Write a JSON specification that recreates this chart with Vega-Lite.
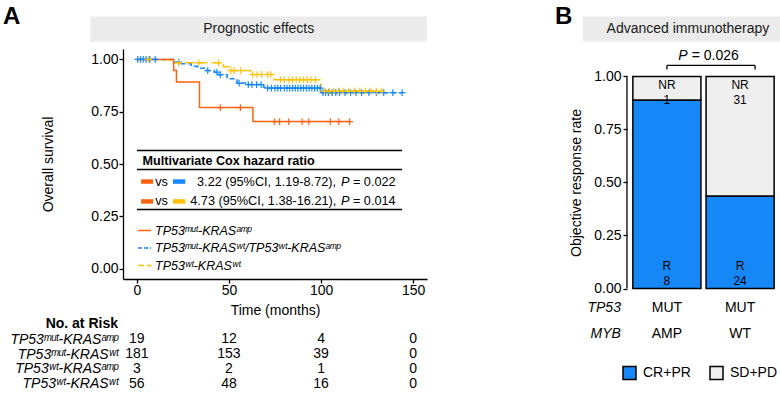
{
  "$schema": "https://vega.github.io/schema/vega-lite/v6.json",
  "background": "white",
  "padding": {"left": 3, "top": 5, "right": 0, "bottom": 0},
  "config": {
    "font": "Liberation Sans, DejaVu Sans",
    "view": {"stroke": null},
    "axis": {"labelColor": "black", "titleColor": "black", "domainColor": "black", "tickColor": "black", "grid": false, "labelFontSize": 14, "titleFontSize": 14, "titleFontWeight": "normal", "tickSize": 4, "domainWidth": 1.3, "tickWidth": 1.3},
    "text": {"color": "black"}
  },
  "datasets": {
    "km": [
      {"group": "TP53\u1d50\u1d58\u1d57-KRAS\u02b7\u1d57/TP53\u02b7\u1d57-KRAS\u1d43\u1d50\u1d56", "t": 0, "s": 1},
      {"group": "TP53\u1d50\u1d58\u1d57-KRAS\u02b7\u1d57/TP53\u02b7\u1d57-KRAS\u1d43\u1d50\u1d56", "t": 20, "s": 0.987},
      {"group": "TP53\u1d50\u1d58\u1d57-KRAS\u02b7\u1d57/TP53\u02b7\u1d57-KRAS\u1d43\u1d50\u1d56", "t": 23.5, "s": 0.979},
      {"group": "TP53\u1d50\u1d58\u1d57-KRAS\u02b7\u1d57/TP53\u02b7\u1d57-KRAS\u1d43\u1d50\u1d56", "t": 29.5, "s": 0.967},
      {"group": "TP53\u1d50\u1d58\u1d57-KRAS\u02b7\u1d57/TP53\u02b7\u1d57-KRAS\u1d43\u1d50\u1d56", "t": 33, "s": 0.958},
      {"group": "TP53\u1d50\u1d58\u1d57-KRAS\u02b7\u1d57/TP53\u02b7\u1d57-KRAS\u1d43\u1d50\u1d56", "t": 38, "s": 0.947},
      {"group": "TP53\u1d50\u1d58\u1d57-KRAS\u02b7\u1d57/TP53\u02b7\u1d57-KRAS\u1d43\u1d50\u1d56", "t": 42, "s": 0.939},
      {"group": "TP53\u1d50\u1d58\u1d57-KRAS\u02b7\u1d57/TP53\u02b7\u1d57-KRAS\u1d43\u1d50\u1d56", "t": 44.5, "s": 0.927},
      {"group": "TP53\u1d50\u1d58\u1d57-KRAS\u02b7\u1d57/TP53\u02b7\u1d57-KRAS\u1d43\u1d50\u1d56", "t": 49, "s": 0.908},
      {"group": "TP53\u1d50\u1d58\u1d57-KRAS\u02b7\u1d57/TP53\u02b7\u1d57-KRAS\u1d43\u1d50\u1d56", "t": 54.4, "s": 0.887},
      {"group": "TP53\u1d50\u1d58\u1d57-KRAS\u02b7\u1d57/TP53\u02b7\u1d57-KRAS\u1d43\u1d50\u1d56", "t": 59.8, "s": 0.88},
      {"group": "TP53\u1d50\u1d58\u1d57-KRAS\u02b7\u1d57/TP53\u02b7\u1d57-KRAS\u1d43\u1d50\u1d56", "t": 68.8, "s": 0.867},
      {"group": "TP53\u1d50\u1d58\u1d57-KRAS\u02b7\u1d57/TP53\u02b7\u1d57-KRAS\u1d43\u1d50\u1d56", "t": 70.7, "s": 0.863},
      {"group": "TP53\u1d50\u1d58\u1d57-KRAS\u02b7\u1d57/TP53\u02b7\u1d57-KRAS\u1d43\u1d50\u1d56", "t": 100.5, "s": 0.841},
      {"group": "TP53\u1d50\u1d58\u1d57-KRAS\u02b7\u1d57/TP53\u02b7\u1d57-KRAS\u1d43\u1d50\u1d56", "t": 144, "s": 0.841},
      {"group": "TP53\u02b7\u1d57-KRAS\u02b7\u1d57", "t": 0, "s": 1},
      {"group": "TP53\u02b7\u1d57-KRAS\u02b7\u1d57", "t": 18, "s": 0.984},
      {"group": "TP53\u02b7\u1d57-KRAS\u02b7\u1d57", "t": 47, "s": 0.965},
      {"group": "TP53\u02b7\u1d57-KRAS\u02b7\u1d57", "t": 50, "s": 0.947},
      {"group": "TP53\u02b7\u1d57-KRAS\u02b7\u1d57", "t": 61.5, "s": 0.928},
      {"group": "TP53\u02b7\u1d57-KRAS\u02b7\u1d57", "t": 74.5, "s": 0.903},
      {"group": "TP53\u02b7\u1d57-KRAS\u02b7\u1d57", "t": 100, "s": 0.849},
      {"group": "TP53\u02b7\u1d57-KRAS\u02b7\u1d57", "t": 133, "s": 0.849},
      {"group": "TP53\u1d50\u1d58\u1d57-KRAS\u1d43\u1d50\u1d56", "t": 0, "s": 1},
      {"group": "TP53\u1d50\u1d58\u1d57-KRAS\u1d43\u1d50\u1d56", "t": 20, "s": 0.947},
      {"group": "TP53\u1d50\u1d58\u1d57-KRAS\u1d43\u1d50\u1d56", "t": 21.5, "s": 0.892},
      {"group": "TP53\u1d50\u1d58\u1d57-KRAS\u1d43\u1d50\u1d56", "t": 34, "s": 0.77},
      {"group": "TP53\u1d50\u1d58\u1d57-KRAS\u1d43\u1d50\u1d56", "t": 63, "s": 0.703},
      {"group": "TP53\u1d50\u1d58\u1d57-KRAS\u1d43\u1d50\u1d56", "t": 116, "s": 0.703}
    ],
    "censor": [
      {"group": "TP53\u1d50\u1d58\u1d57-KRAS\u02b7\u1d57/TP53\u02b7\u1d57-KRAS\u1d43\u1d50\u1d56", "t": 0.5, "s": 1},
      {"group": "TP53\u1d50\u1d58\u1d57-KRAS\u02b7\u1d57/TP53\u02b7\u1d57-KRAS\u1d43\u1d50\u1d56", "t": 2, "s": 1},
      {"group": "TP53\u1d50\u1d58\u1d57-KRAS\u02b7\u1d57/TP53\u02b7\u1d57-KRAS\u1d43\u1d50\u1d56", "t": 3.5, "s": 1},
      {"group": "TP53\u1d50\u1d58\u1d57-KRAS\u02b7\u1d57/TP53\u02b7\u1d57-KRAS\u1d43\u1d50\u1d56", "t": 5, "s": 1},
      {"group": "TP53\u1d50\u1d58\u1d57-KRAS\u02b7\u1d57/TP53\u02b7\u1d57-KRAS\u1d43\u1d50\u1d56", "t": 7, "s": 1},
      {"group": "TP53\u1d50\u1d58\u1d57-KRAS\u02b7\u1d57/TP53\u02b7\u1d57-KRAS\u1d43\u1d50\u1d56", "t": 10, "s": 1},
      {"group": "TP53\u1d50\u1d58\u1d57-KRAS\u02b7\u1d57/TP53\u02b7\u1d57-KRAS\u1d43\u1d50\u1d56", "t": 22.7, "s": 0.987},
      {"group": "TP53\u1d50\u1d58\u1d57-KRAS\u02b7\u1d57/TP53\u02b7\u1d57-KRAS\u1d43\u1d50\u1d56", "t": 38.5, "s": 0.947},
      {"group": "TP53\u1d50\u1d58\u1d57-KRAS\u02b7\u1d57/TP53\u02b7\u1d57-KRAS\u1d43\u1d50\u1d56", "t": 43.5, "s": 0.939},
      {"group": "TP53\u1d50\u1d58\u1d57-KRAS\u02b7\u1d57/TP53\u02b7\u1d57-KRAS\u1d43\u1d50\u1d56", "t": 45.3, "s": 0.927},
      {"group": "TP53\u1d50\u1d58\u1d57-KRAS\u02b7\u1d57/TP53\u02b7\u1d57-KRAS\u1d43\u1d50\u1d56", "t": 55.5, "s": 0.887},
      {"group": "TP53\u1d50\u1d58\u1d57-KRAS\u02b7\u1d57/TP53\u02b7\u1d57-KRAS\u1d43\u1d50\u1d56", "t": 60.5, "s": 0.88},
      {"group": "TP53\u1d50\u1d58\u1d57-KRAS\u02b7\u1d57/TP53\u02b7\u1d57-KRAS\u1d43\u1d50\u1d56", "t": 62.5, "s": 0.88},
      {"group": "TP53\u1d50\u1d58\u1d57-KRAS\u02b7\u1d57/TP53\u02b7\u1d57-KRAS\u1d43\u1d50\u1d56", "t": 65, "s": 0.88},
      {"group": "TP53\u1d50\u1d58\u1d57-KRAS\u02b7\u1d57/TP53\u02b7\u1d57-KRAS\u1d43\u1d50\u1d56", "t": 67.5, "s": 0.88},
      {"group": "TP53\u1d50\u1d58\u1d57-KRAS\u02b7\u1d57/TP53\u02b7\u1d57-KRAS\u1d43\u1d50\u1d56", "t": 71, "s": 0.863},
      {"group": "TP53\u1d50\u1d58\u1d57-KRAS\u02b7\u1d57/TP53\u02b7\u1d57-KRAS\u1d43\u1d50\u1d56", "t": 73, "s": 0.863},
      {"group": "TP53\u1d50\u1d58\u1d57-KRAS\u02b7\u1d57/TP53\u02b7\u1d57-KRAS\u1d43\u1d50\u1d56", "t": 75, "s": 0.863},
      {"group": "TP53\u1d50\u1d58\u1d57-KRAS\u02b7\u1d57/TP53\u02b7\u1d57-KRAS\u1d43\u1d50\u1d56", "t": 76.5, "s": 0.863},
      {"group": "TP53\u1d50\u1d58\u1d57-KRAS\u02b7\u1d57/TP53\u02b7\u1d57-KRAS\u1d43\u1d50\u1d56", "t": 78, "s": 0.863},
      {"group": "TP53\u1d50\u1d58\u1d57-KRAS\u02b7\u1d57/TP53\u02b7\u1d57-KRAS\u1d43\u1d50\u1d56", "t": 80, "s": 0.863},
      {"group": "TP53\u1d50\u1d58\u1d57-KRAS\u02b7\u1d57/TP53\u02b7\u1d57-KRAS\u1d43\u1d50\u1d56", "t": 81.5, "s": 0.863},
      {"group": "TP53\u1d50\u1d58\u1d57-KRAS\u02b7\u1d57/TP53\u02b7\u1d57-KRAS\u1d43\u1d50\u1d56", "t": 83, "s": 0.863},
      {"group": "TP53\u1d50\u1d58\u1d57-KRAS\u02b7\u1d57/TP53\u02b7\u1d57-KRAS\u1d43\u1d50\u1d56", "t": 84.5, "s": 0.863},
      {"group": "TP53\u1d50\u1d58\u1d57-KRAS\u02b7\u1d57/TP53\u02b7\u1d57-KRAS\u1d43\u1d50\u1d56", "t": 86, "s": 0.863},
      {"group": "TP53\u1d50\u1d58\u1d57-KRAS\u02b7\u1d57/TP53\u02b7\u1d57-KRAS\u1d43\u1d50\u1d56", "t": 87.5, "s": 0.863},
      {"group": "TP53\u1d50\u1d58\u1d57-KRAS\u02b7\u1d57/TP53\u02b7\u1d57-KRAS\u1d43\u1d50\u1d56", "t": 89, "s": 0.863},
      {"group": "TP53\u1d50\u1d58\u1d57-KRAS\u02b7\u1d57/TP53\u02b7\u1d57-KRAS\u1d43\u1d50\u1d56", "t": 90.5, "s": 0.863},
      {"group": "TP53\u1d50\u1d58\u1d57-KRAS\u02b7\u1d57/TP53\u02b7\u1d57-KRAS\u1d43\u1d50\u1d56", "t": 92, "s": 0.863},
      {"group": "TP53\u1d50\u1d58\u1d57-KRAS\u02b7\u1d57/TP53\u02b7\u1d57-KRAS\u1d43\u1d50\u1d56", "t": 93.5, "s": 0.863},
      {"group": "TP53\u1d50\u1d58\u1d57-KRAS\u02b7\u1d57/TP53\u02b7\u1d57-KRAS\u1d43\u1d50\u1d56", "t": 95, "s": 0.863},
      {"group": "TP53\u1d50\u1d58\u1d57-KRAS\u02b7\u1d57/TP53\u02b7\u1d57-KRAS\u1d43\u1d50\u1d56", "t": 96.5, "s": 0.863},
      {"group": "TP53\u1d50\u1d58\u1d57-KRAS\u02b7\u1d57/TP53\u02b7\u1d57-KRAS\u1d43\u1d50\u1d56", "t": 98, "s": 0.863},
      {"group": "TP53\u1d50\u1d58\u1d57-KRAS\u02b7\u1d57/TP53\u02b7\u1d57-KRAS\u1d43\u1d50\u1d56", "t": 99.5, "s": 0.863},
      {"group": "TP53\u1d50\u1d58\u1d57-KRAS\u02b7\u1d57/TP53\u02b7\u1d57-KRAS\u1d43\u1d50\u1d56", "t": 101, "s": 0.841},
      {"group": "TP53\u1d50\u1d58\u1d57-KRAS\u02b7\u1d57/TP53\u02b7\u1d57-KRAS\u1d43\u1d50\u1d56", "t": 102.5, "s": 0.841},
      {"group": "TP53\u1d50\u1d58\u1d57-KRAS\u02b7\u1d57/TP53\u02b7\u1d57-KRAS\u1d43\u1d50\u1d56", "t": 104, "s": 0.841},
      {"group": "TP53\u1d50\u1d58\u1d57-KRAS\u02b7\u1d57/TP53\u02b7\u1d57-KRAS\u1d43\u1d50\u1d56", "t": 106, "s": 0.841},
      {"group": "TP53\u1d50\u1d58\u1d57-KRAS\u02b7\u1d57/TP53\u02b7\u1d57-KRAS\u1d43\u1d50\u1d56", "t": 108, "s": 0.841},
      {"group": "TP53\u1d50\u1d58\u1d57-KRAS\u02b7\u1d57/TP53\u02b7\u1d57-KRAS\u1d43\u1d50\u1d56", "t": 110, "s": 0.841},
      {"group": "TP53\u1d50\u1d58\u1d57-KRAS\u02b7\u1d57/TP53\u02b7\u1d57-KRAS\u1d43\u1d50\u1d56", "t": 113, "s": 0.841},
      {"group": "TP53\u1d50\u1d58\u1d57-KRAS\u02b7\u1d57/TP53\u02b7\u1d57-KRAS\u1d43\u1d50\u1d56", "t": 116, "s": 0.841},
      {"group": "TP53\u1d50\u1d58\u1d57-KRAS\u02b7\u1d57/TP53\u02b7\u1d57-KRAS\u1d43\u1d50\u1d56", "t": 119, "s": 0.841},
      {"group": "TP53\u1d50\u1d58\u1d57-KRAS\u02b7\u1d57/TP53\u02b7\u1d57-KRAS\u1d43\u1d50\u1d56", "t": 122, "s": 0.841},
      {"group": "TP53\u1d50\u1d58\u1d57-KRAS\u02b7\u1d57/TP53\u02b7\u1d57-KRAS\u1d43\u1d50\u1d56", "t": 126, "s": 0.841},
      {"group": "TP53\u1d50\u1d58\u1d57-KRAS\u02b7\u1d57/TP53\u02b7\u1d57-KRAS\u1d43\u1d50\u1d56", "t": 130, "s": 0.841},
      {"group": "TP53\u1d50\u1d58\u1d57-KRAS\u02b7\u1d57/TP53\u02b7\u1d57-KRAS\u1d43\u1d50\u1d56", "t": 134, "s": 0.841},
      {"group": "TP53\u1d50\u1d58\u1d57-KRAS\u02b7\u1d57/TP53\u02b7\u1d57-KRAS\u1d43\u1d50\u1d56", "t": 139, "s": 0.841},
      {"group": "TP53\u1d50\u1d58\u1d57-KRAS\u02b7\u1d57/TP53\u02b7\u1d57-KRAS\u1d43\u1d50\u1d56", "t": 144, "s": 0.841},
      {"group": "TP53\u02b7\u1d57-KRAS\u02b7\u1d57", "t": 6.3, "s": 1},
      {"group": "TP53\u02b7\u1d57-KRAS\u02b7\u1d57", "t": 22.7, "s": 0.984},
      {"group": "TP53\u02b7\u1d57-KRAS\u02b7\u1d57", "t": 33.6, "s": 0.984},
      {"group": "TP53\u02b7\u1d57-KRAS\u02b7\u1d57", "t": 44.4, "s": 0.984},
      {"group": "TP53\u02b7\u1d57-KRAS\u02b7\u1d57", "t": 51, "s": 0.947},
      {"group": "TP53\u02b7\u1d57-KRAS\u02b7\u1d57", "t": 52.8, "s": 0.947},
      {"group": "TP53\u02b7\u1d57-KRAS\u02b7\u1d57", "t": 56.4, "s": 0.947},
      {"group": "TP53\u02b7\u1d57-KRAS\u02b7\u1d57", "t": 62.9, "s": 0.928},
      {"group": "TP53\u02b7\u1d57-KRAS\u02b7\u1d57", "t": 65.2, "s": 0.928},
      {"group": "TP53\u02b7\u1d57-KRAS\u02b7\u1d57", "t": 67.8, "s": 0.928},
      {"group": "TP53\u02b7\u1d57-KRAS\u02b7\u1d57", "t": 71, "s": 0.928},
      {"group": "TP53\u02b7\u1d57-KRAS\u02b7\u1d57", "t": 72.8, "s": 0.928},
      {"group": "TP53\u02b7\u1d57-KRAS\u02b7\u1d57", "t": 78, "s": 0.903},
      {"group": "TP53\u02b7\u1d57-KRAS\u02b7\u1d57", "t": 80, "s": 0.903},
      {"group": "TP53\u02b7\u1d57-KRAS\u02b7\u1d57", "t": 82.5, "s": 0.903},
      {"group": "TP53\u02b7\u1d57-KRAS\u02b7\u1d57", "t": 84.5, "s": 0.903},
      {"group": "TP53\u02b7\u1d57-KRAS\u02b7\u1d57", "t": 86.5, "s": 0.903},
      {"group": "TP53\u02b7\u1d57-KRAS\u02b7\u1d57", "t": 88.5, "s": 0.903},
      {"group": "TP53\u02b7\u1d57-KRAS\u02b7\u1d57", "t": 90.5, "s": 0.903},
      {"group": "TP53\u02b7\u1d57-KRAS\u02b7\u1d57", "t": 92.5, "s": 0.903},
      {"group": "TP53\u02b7\u1d57-KRAS\u02b7\u1d57", "t": 94.5, "s": 0.903},
      {"group": "TP53\u02b7\u1d57-KRAS\u02b7\u1d57", "t": 97, "s": 0.903},
      {"group": "TP53\u02b7\u1d57-KRAS\u02b7\u1d57", "t": 102, "s": 0.849},
      {"group": "TP53\u02b7\u1d57-KRAS\u02b7\u1d57", "t": 104.5, "s": 0.849},
      {"group": "TP53\u02b7\u1d57-KRAS\u02b7\u1d57", "t": 107, "s": 0.849},
      {"group": "TP53\u02b7\u1d57-KRAS\u02b7\u1d57", "t": 109.5, "s": 0.849},
      {"group": "TP53\u02b7\u1d57-KRAS\u02b7\u1d57", "t": 112, "s": 0.849},
      {"group": "TP53\u02b7\u1d57-KRAS\u02b7\u1d57", "t": 115, "s": 0.849},
      {"group": "TP53\u02b7\u1d57-KRAS\u02b7\u1d57", "t": 118, "s": 0.849},
      {"group": "TP53\u02b7\u1d57-KRAS\u02b7\u1d57", "t": 121, "s": 0.849},
      {"group": "TP53\u02b7\u1d57-KRAS\u02b7\u1d57", "t": 124, "s": 0.849},
      {"group": "TP53\u02b7\u1d57-KRAS\u02b7\u1d57", "t": 127, "s": 0.849},
      {"group": "TP53\u02b7\u1d57-KRAS\u02b7\u1d57", "t": 130, "s": 0.849},
      {"group": "TP53\u02b7\u1d57-KRAS\u02b7\u1d57", "t": 133, "s": 0.849},
      {"group": "TP53\u1d50\u1d58\u1d57-KRAS\u1d43\u1d50\u1d56", "t": 45.3, "s": 0.77},
      {"group": "TP53\u1d50\u1d58\u1d57-KRAS\u1d43\u1d50\u1d56", "t": 56.2, "s": 0.77},
      {"group": "TP53\u1d50\u1d58\u1d57-KRAS\u1d43\u1d50\u1d56", "t": 74.6, "s": 0.703},
      {"group": "TP53\u1d50\u1d58\u1d57-KRAS\u1d43\u1d50\u1d56", "t": 77.5, "s": 0.703},
      {"group": "TP53\u1d50\u1d58\u1d57-KRAS\u1d43\u1d50\u1d56", "t": 82.4, "s": 0.703},
      {"group": "TP53\u1d50\u1d58\u1d57-KRAS\u1d43\u1d50\u1d56", "t": 89.7, "s": 0.703},
      {"group": "TP53\u1d50\u1d58\u1d57-KRAS\u1d43\u1d50\u1d56", "t": 93.3, "s": 0.703},
      {"group": "TP53\u1d50\u1d58\u1d57-KRAS\u1d43\u1d50\u1d56", "t": 105, "s": 0.703},
      {"group": "TP53\u1d50\u1d58\u1d57-KRAS\u1d43\u1d50\u1d56", "t": 109.6, "s": 0.703},
      {"group": "TP53\u1d50\u1d58\u1d57-KRAS\u1d43\u1d50\u1d56", "t": 115.5, "s": 0.703}
    ],
    "risk": [
      {"group": "TP53\u1d50\u1d58\u1d57-KRAS\u1d43\u1d50\u1d56", "t": 0, "n": 19},
      {"group": "TP53\u1d50\u1d58\u1d57-KRAS\u1d43\u1d50\u1d56", "t": 50, "n": 12},
      {"group": "TP53\u1d50\u1d58\u1d57-KRAS\u1d43\u1d50\u1d56", "t": 100, "n": 4},
      {"group": "TP53\u1d50\u1d58\u1d57-KRAS\u1d43\u1d50\u1d56", "t": 150, "n": 0},
      {"group": "TP53\u1d50\u1d58\u1d57-KRAS\u02b7\u1d57", "t": 0, "n": 181},
      {"group": "TP53\u1d50\u1d58\u1d57-KRAS\u02b7\u1d57", "t": 50, "n": 153},
      {"group": "TP53\u1d50\u1d58\u1d57-KRAS\u02b7\u1d57", "t": 100, "n": 39},
      {"group": "TP53\u1d50\u1d58\u1d57-KRAS\u02b7\u1d57", "t": 150, "n": 0},
      {"group": "TP53\u02b7\u1d57-KRAS\u1d43\u1d50\u1d56", "t": 0, "n": 3},
      {"group": "TP53\u02b7\u1d57-KRAS\u1d43\u1d50\u1d56", "t": 50, "n": 2},
      {"group": "TP53\u02b7\u1d57-KRAS\u1d43\u1d50\u1d56", "t": 100, "n": 1},
      {"group": "TP53\u02b7\u1d57-KRAS\u1d43\u1d50\u1d56", "t": 150, "n": 0},
      {"group": "TP53\u02b7\u1d57-KRAS\u02b7\u1d57", "t": 0, "n": 56},
      {"group": "TP53\u02b7\u1d57-KRAS\u02b7\u1d57", "t": 50, "n": 48},
      {"group": "TP53\u02b7\u1d57-KRAS\u02b7\u1d57", "t": 100, "n": 16},
      {"group": "TP53\u02b7\u1d57-KRAS\u02b7\u1d57", "t": 150, "n": 0}
    ],
    "orr": [
      {"group": "MUT-AMP", "tp53": "MUT", "myb": "AMP", "response": "CR+PR", "abbr": "R", "n": 8},
      {"group": "MUT-AMP", "tp53": "MUT", "myb": "AMP", "response": "SD+PD", "abbr": "NR", "n": 1},
      {"group": "MUT-WT", "tp53": "MUT", "myb": "WT", "response": "CR+PR", "abbr": "R", "n": 24},
      {"group": "MUT-WT", "tp53": "MUT", "myb": "WT", "response": "SD+PD", "abbr": "NR", "n": 31}
    ]
  },
  "columns": 2,
  "bounds": "flush",
  "spacing": {"row": 43, "column": 200},
  "resolve": {"scale": {"color": "independent"}},
  "concat": [
    {
      "width": 304, "height": 230,
      "layer": [
        {"data": {"name": "km"},
         "mark": {"type": "line", "interpolate": "step-after", "strokeWidth": 1.5},
         "encoding": {
           "x": {"field": "t", "type": "quantitative", "scale": {"domain": [-7.5, 157.5], "nice": false, "zero": false},
                 "axis": {"values": [0, 50, 100, 150], "title": "Time (months)", "labelPadding": 0, "titlePadding": 6}},
           "y": {"field": "s", "type": "quantitative", "scale": {"domain": [-0.05, 1.05], "nice": false, "zero": false},
                 "axis": {"values": [0, 0.25, 0.5, 0.75, 1], "format": ".2f", "title": "Overall survival", "labelPadding": 1, "titlePadding": 35}},
           "color": {"field": "group", "type": "nominal",
             "scale": {"domain": ["TP53\u1d50\u1d58\u1d57-KRAS\u1d43\u1d50\u1d56", "TP53\u1d50\u1d58\u1d57-KRAS\u02b7\u1d57/TP53\u02b7\u1d57-KRAS\u1d43\u1d50\u1d56", "TP53\u02b7\u1d57-KRAS\u02b7\u1d57"], "range": ["#FF620F", "#1587FF", "#FFC107"]},
             "legend": {"orient": "none", "legendX": 14, "legendY": 174, "title": null, "symbolType": "stroke", "symbolSize": 169, "symbolStrokeWidth": 1.5, "labelFontSize": 12.5, "labelFontStyle": "italic", "labelOffset": 3, "rowPadding": 3.5, "labelLimit": 300, "padding": 0, "labelColor": "black",
               "encode": {"symbols": {"update": {"strokeDash": {"signal": "datum.index === 1 ? [4, 2] : datum.index === 2 ? [6, 3] : [1, 0]"}}}}}},
           "strokeDash": {"field": "group", "type": "nominal",
             "scale": {"domain": ["TP53\u1d50\u1d58\u1d57-KRAS\u1d43\u1d50\u1d56", "TP53\u1d50\u1d58\u1d57-KRAS\u02b7\u1d57/TP53\u02b7\u1d57-KRAS\u1d43\u1d50\u1d56", "TP53\u02b7\u1d57-KRAS\u02b7\u1d57"], "range": [[1, 0], [5, 3], [9, 4]]},
             "legend": null}
         }},
        {"data": {"name": "censor"},
         "mark": {"type": "point", "shape": "M-1,0L1,0M0,-1L0,1", "filled": false, "size": 45, "strokeWidth": 1.2, "opacity": 1},
         "encoding": {
           "x": {"field": "t", "type": "quantitative"},
           "y": {"field": "s", "type": "quantitative"},
           "color": {"field": "group", "type": "nominal"}}},
        {"data": {"values": [{}]}, "mark": {"type": "rect", "color": "#EBEBEB"},
         "encoding": {"x": {"datum": -25.2}, "x2": {"datum": 157.5}, "y": {"datum": 1.0859}, "y2": {"datum": 1.2054}}},
        {"data": {"values": [{"txt": "Prognostic effects"}]}, "mark": {"type": "text", "fontSize": 14, "color": "#1A1A1A"},
         "encoding": {"x": {"datum": 66.15}, "y": {"datum": 1.1457}, "text": {"field": "txt"}}},
        {"data": {"values": [{"txt": "A"}]}, "mark": {"type": "text", "fontSize": 24, "fontWeight": "bold", "align": "left", "baseline": "top"},
         "encoding": {"x": {"datum": -72.6}, "y": {"datum": 1.2585}, "text": {"field": "txt"}}},
        {"data": {"values": [{}]}, "mark": {"type": "rule", "color": "black", "strokeWidth": 1.5},
         "encoding": {"x": {"datum": 0.1}, "x2": {"datum": 144}, "y": {"datum": 0.565}}},
        {"data": {"values": [{}]}, "mark": {"type": "rule", "color": "black", "strokeWidth": 1.5},
         "encoding": {"x": {"datum": 0.1}, "x2": {"datum": 144}, "y": {"datum": 0.474}}},
        {"data": {"values": [{}]}, "mark": {"type": "rule", "color": "black", "strokeWidth": 1.5},
         "encoding": {"x": {"datum": 0.1}, "x2": {"datum": 144}, "y": {"datum": 0.282}}},
        {"data": {"values": [{"txt": "Multivariate Cox hazard ratio"}]}, "mark": {"type": "text", "fontSize": 12.6, "fontWeight": "bold", "align": "left"},
         "encoding": {"x": {"datum": 3.1}, "y": {"datum": 0.513}, "text": {"field": "txt"}}},
        {"data": {"values": [{}]}, "mark": {"type": "rule", "color": "#FF620F", "strokeWidth": 4.5},
         "encoding": {"x": {"datum": 2.3}, "x2": {"datum": 8.8}, "y": {"datum": 0.416}}},
        {"data": {"values": [{}]}, "mark": {"type": "rule", "color": "#1587FF", "strokeWidth": 4.5},
         "encoding": {"x": {"datum": 19.6}, "x2": {"datum": 26.3}, "y": {"datum": 0.416}}},
        {"data": {"values": [{}]}, "mark": {"type": "rule", "color": "#FF620F", "strokeWidth": 4.5},
         "encoding": {"x": {"datum": 2.3}, "x2": {"datum": 8.8}, "y": {"datum": 0.321}}},
        {"data": {"values": [{}]}, "mark": {"type": "rule", "color": "#FFC107", "strokeWidth": 4.5},
         "encoding": {"x": {"datum": 19.6}, "x2": {"datum": 26.3}, "y": {"datum": 0.321}}},
        {"data": {"values": [{"txt": "vs"}]}, "mark": {"type": "text", "fontSize": 12.7, "align": "left"},
         "encoding": {"x": {"datum": 10}, "y": {"datum": 0.416}, "text": {"field": "txt"}}},
        {"data": {"values": [{"txt": "vs"}]}, "mark": {"type": "text", "fontSize": 12.7, "align": "left"},
         "encoding": {"x": {"datum": 10}, "y": {"datum": 0.321}, "text": {"field": "txt"}}},
        {"data": {"values": [{"txt": "3.22 (95%CI, 1.19-8.72),"}]}, "mark": {"type": "text", "fontSize": 12.7, "align": "left"},
         "encoding": {"x": {"datum": 32.7}, "y": {"datum": 0.416}, "text": {"field": "txt"}}},
        {"data": {"values": [{"txt": "4.73 (95%CI, 1.38-16.21),"}]}, "mark": {"type": "text", "fontSize": 12.7, "align": "left"},
         "encoding": {"x": {"datum": 29.0}, "y": {"datum": 0.321}, "text": {"field": "txt"}}},
        {"data": {"values": [{"txt": "P"}]}, "mark": {"type": "text", "fontSize": 12.7, "fontStyle": "italic", "align": "left"},
         "encoding": {"x": {"datum": 110.8}, "y": {"datum": 0.416}, "text": {"field": "txt"}}},
        {"data": {"values": [{"txt": "P"}]}, "mark": {"type": "text", "fontSize": 12.7, "fontStyle": "italic", "align": "left"},
         "encoding": {"x": {"datum": 110.8}, "y": {"datum": 0.321}, "text": {"field": "txt"}}},
        {"data": {"values": [{"txt": "= 0.022"}]}, "mark": {"type": "text", "fontSize": 12.7, "align": "left"},
         "encoding": {"x": {"datum": 117.3}, "y": {"datum": 0.416}, "text": {"field": "txt"}}},
        {"data": {"values": [{"txt": "= 0.014"}]}, "mark": {"type": "text", "fontSize": 12.7, "align": "left"},
         "encoding": {"x": {"datum": 117.3}, "y": {"datum": 0.321}, "text": {"field": "txt"}}}
      ]
    },
    {
      "width": 153, "height": 239.5,
      "layer": [
        {"data": {"name": "orr"},
         "mark": {"type": "bar", "stroke": "black", "strokeWidth": 1.5},
         "encoding": {
           "x": {"field": "group", "type": "nominal", "scale": {"domain": ["MUT-AMP", "MUT-WT"], "paddingInner": 0.07, "paddingOuter": 0.08}, "axis": null},
           "y": {"field": "n", "type": "quantitative", "stack": "normalize", "scale": {"domain": [0, 1.1297], "nice": false},
                 "axis": {"values": [0, 0.25, 0.5, 0.75, 1], "labelExpr": "format(datum.value, '.2f')", "title": "Objective response rate", "domain": false, "labelPadding": 2, "titlePadding": 10, "titleY": 133.5}},
           "color": {"field": "response", "type": "nominal", "scale": {"domain": ["CR+PR", "SD+PD"], "range": ["#1587F7", "#EFEFEF"]},
             "legend": {"orient": "none", "legendX": -5, "legendY": 316.5, "direction": "horizontal", "title": null, "symbolType": "square", "symbolSize": 169, "symbolStrokeColor": "black", "symbolStrokeWidth": 1.5, "symbolOpacity": 1, "labelFontSize": 14, "labelOffset": 6, "columnPadding": 16, "padding": 0, "labelColor": "black"}},
           "order": {"field": "response", "type": "nominal", "sort": "ascending"}}},
        {"data": {"values": [{}]}, "mark": {"type": "rule", "color": "black", "strokeWidth": 1.3},
         "encoding": {"x": {"datum": "MUT-AMP", "bandPosition": -0.0866}, "y": {"datum": 0}, "y2": {"datum": 1}}},
        {"data": {"values": [{}]}, "mark": {"type": "rect", "color": "#EBEBEB"},
         "encoding": {"x": {"datum": "MUT-AMP", "bandPosition": -0.733}, "x2": {"datum": "MUT-WT", "bandPosition": 1.085}, "y": {"datum": 1.165}, "y2": {"datum": 1.283}}},
        {"data": {"values": [{"txt": "Advanced immunotherapy"}]}, "mark": {"type": "text", "fontSize": 14, "color": "#1A1A1A"},
         "encoding": {"x": {"datum": "MUT-AMP", "bandPosition": 0.809}, "y": {"datum": 1.224}, "text": {"field": "txt"}}},
        {"data": {"values": [{"txt": "B"}]}, "mark": {"type": "text", "fontSize": 24, "fontWeight": "bold", "align": "left", "baseline": "top"},
         "encoding": {"x": {"datum": "MUT-AMP", "bandPosition": -1.144}, "y": {"datum": 1.335}, "text": {"field": "txt"}}},
        {"data": {"name": "orr"}, "transform": [{"filter": "datum.response === 'CR+PR'"}],
         "mark": {"type": "text", "fontSize": 12},
         "encoding": {"x": {"field": "group", "type": "nominal"}, "y": {"datum": 0.105}, "text": {"field": "abbr"}}},
        {"data": {"name": "orr"}, "transform": [{"filter": "datum.response === 'CR+PR'"}],
         "mark": {"type": "text", "fontSize": 12},
         "encoding": {"x": {"field": "group", "type": "nominal"}, "y": {"datum": 0.036}, "text": {"field": "n", "type": "quantitative"}}},
        {"data": {"name": "orr"}, "transform": [{"filter": "datum.response === 'SD+PD'"}],
         "mark": {"type": "text", "fontSize": 12},
         "encoding": {"x": {"field": "group", "type": "nominal"}, "y": {"datum": 0.959}, "text": {"field": "abbr"}}},
        {"data": {"name": "orr"}, "transform": [{"filter": "datum.response === 'SD+PD'"}],
         "mark": {"type": "text", "fontSize": 12},
         "encoding": {"x": {"field": "group", "type": "nominal"}, "y": {"datum": 0.888}, "text": {"field": "n", "type": "quantitative"}}},
        {"data": {"name": "orr"}, "transform": [{"filter": "datum.response === 'CR+PR'"}],
         "mark": {"type": "text", "fontSize": 14},
         "encoding": {"x": {"field": "group", "type": "nominal"}, "y": {"datum": -0.094}, "text": {"field": "tp53"}}},
        {"data": {"name": "orr"}, "transform": [{"filter": "datum.response === 'CR+PR'"}],
         "mark": {"type": "text", "fontSize": 14},
         "encoding": {"x": {"field": "group", "type": "nominal"}, "y": {"datum": -0.216}, "text": {"field": "myb"}}},
        {"data": {"values": [{"txt": "TP53"}]}, "mark": {"type": "text", "fontSize": 14, "fontStyle": "italic", "align": "right"},
         "encoding": {"x": {"datum": "MUT-AMP", "bandPosition": -0.175}, "y": {"datum": -0.094}, "text": {"field": "txt"}}},
        {"data": {"values": [{"txt": "MYB"}]}, "mark": {"type": "text", "fontSize": 14, "fontStyle": "italic", "align": "right"},
         "encoding": {"x": {"datum": "MUT-AMP", "bandPosition": -0.175}, "y": {"datum": -0.216}, "text": {"field": "txt"}}},
        {"data": {"values": [{"txt": "P"}]}, "mark": {"type": "text", "fontSize": 14, "fontStyle": "italic", "align": "left"},
         "encoding": {"x": {"datum": "MUT-AMP", "bandPosition": 0.667}, "y": {"datum": 1.099}, "text": {"field": "txt"}}},
        {"data": {"values": [{"txt": "= 0.026"}]}, "mark": {"type": "text", "fontSize": 14, "align": "left"},
         "encoding": {"x": {"datum": "MUT-AMP", "bandPosition": 0.865}, "y": {"datum": 1.099}, "text": {"field": "txt"}}},
        {"data": {"values": [{}]}, "mark": {"type": "rule", "color": "black", "strokeWidth": 1.3},
         "encoding": {"x": {"datum": "MUT-AMP", "bandPosition": 0.5}, "x2": {"datum": "MUT-WT", "bandPosition": 0.72}, "y": {"datum": 1.052}}},
        {"data": {"values": [{}]}, "mark": {"type": "rule", "color": "black", "strokeWidth": 1.3},
         "encoding": {"x": {"datum": "MUT-AMP", "bandPosition": 0.5}, "y": {"datum": 1.052}, "y2": {"datum": 1.033}}},
        {"data": {"values": [{}]}, "mark": {"type": "rule", "color": "black", "strokeWidth": 1.3},
         "encoding": {"x": {"datum": "MUT-WT", "bandPosition": 0.72}, "y": {"datum": 1.052}, "y2": {"datum": 1.033}}}
      ]
    },
    {
      "width": 304, "height": 59,
      "data": {"name": "risk"},
      "title": {"text": "No. at Risk", "frame": "group", "anchor": "start", "align": "right", "dx": -5, "offset": 1.5, "fontSize": 14, "fontWeight": "bold", "color": "black"},
      "mark": {"type": "text", "fontSize": 14},
      "encoding": {
        "x": {"field": "t", "type": "quantitative", "scale": {"domain": [-7.5, 157.5], "nice": false, "zero": false}, "axis": null},
        "y": {"field": "group", "type": "nominal",
              "scale": {"domain": ["TP53\u1d50\u1d58\u1d57-KRAS\u1d43\u1d50\u1d56", "TP53\u1d50\u1d58\u1d57-KRAS\u02b7\u1d57", "TP53\u02b7\u1d57-KRAS\u1d43\u1d50\u1d56", "TP53\u02b7\u1d57-KRAS\u02b7\u1d57"], "paddingInner": 0, "paddingOuter": 0},
              "axis": {"title": null, "domain": false, "ticks": false, "labelPadding": 5, "labelFontSize": 14, "labelFontStyle": "italic", "labelLimit": 200}},
        "text": {"field": "n", "type": "quantitative"}
      }
    }
  ]
}
